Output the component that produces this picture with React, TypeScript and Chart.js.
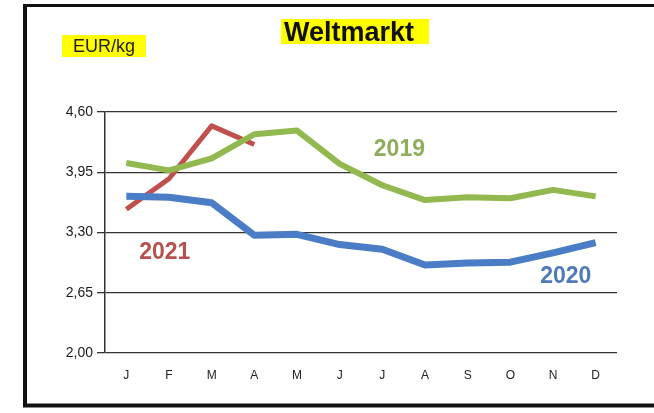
import React, { useEffect, useRef } from "react";
import { Chart, registerables } from "chart.js";

Chart.register(...registerables);

const months = ["J", "F", "M", "A", "M", "J", "J", "A", "S", "O", "N", "D"];
const values2019 = [4.05, 3.97, 4.1, 4.36, 4.4, 4.04, 3.81, 3.65, 3.68, 3.67, 3.76, 3.69];
const values2020 = [3.69, 3.68, 3.62, 3.27, 3.28, 3.17, 3.12, 2.95, 2.97, 2.98, 3.08, 3.19];
const values2021 = [3.55, 3.88, 4.45, 4.25];
const yTicks = [2.0, 2.65, 3.3, 3.95, 4.6];
const seriesLabels = ["2019", "2020", "2021"];
const seriesColors = ["#92B850", "#4A7DC6", "#C0504D"];
const labelColors = ["#8FAE5C", "#4F7BB8", "#B5524F"];
// year annotations: [category index, value]
const labelAnchors: [number, number][] = [
  [6.4, 4.19],
  [10.3, 2.82],
  [0.9, 3.08],
];
const titleText = "Weltmarkt";
const unitText = "EUR/kg";

const decorPlugin = {
  id: "decor",
  beforeDraw(chart: any) {
    const ctx = chart.ctx;
    ctx.save();
    ctx.fillStyle = "#ffffff";
    ctx.fillRect(0, 0, chart.width, chart.height);
    ctx.restore();
  },
  afterDraw(chart: any) {
    const ctx = chart.ctx;
    ctx.save();
    // frame
    ctx.strokeStyle = "#111";
    ctx.lineWidth = 4;
    ctx.beginPath();
    ctx.moveTo(25, 4);
    ctx.lineTo(25, 407);
    ctx.stroke();
    ctx.lineWidth = 3;
    ctx.beginPath();
    ctx.moveTo(23, 5.5);
    ctx.lineTo(chart.width, 5.5);
    ctx.stroke();
    ctx.lineWidth = 4;
    ctx.beginPath();
    ctx.moveTo(23, 405.5);
    ctx.lineTo(chart.width, 405.5);
    ctx.stroke();

    // title
    ctx.fillStyle = "#FFFF00";
    ctx.fillRect(281, 19, 148, 25);
    ctx.font = "bold 27px 'Liberation Sans', Arial, sans-serif";
    ctx.fillStyle = "#111";
    ctx.textAlign = "left";
    ctx.textBaseline = "alphabetic";
    ctx.fillText(titleText, 284, 41);

    // unit
    ctx.fillStyle = "#FFFF00";
    ctx.fillRect(62, 35, 84, 22);
    ctx.font = "18px 'Liberation Sans', Arial, sans-serif";
    ctx.fillStyle = "#222";
    ctx.fillText(unitText, 73, 52);

    // series labels
    const xs = chart.scales.x;
    const ys = chart.scales.y;
    ctx.font = "bold 23px 'Liberation Sans', Arial, sans-serif";
    ctx.textAlign = "center";
    ctx.textBaseline = "middle";
    labelAnchors.forEach((a, i) => {
      const x0 = xs.getPixelForValue(Math.floor(a[0]));
      const x1 = xs.getPixelForValue(Math.floor(a[0]) + 1);
      const px = x0 + (x1 - x0) * (a[0] - Math.floor(a[0]));
      ctx.fillStyle = labelColors[i];
      ctx.fillText(seriesLabels[i], px, ys.getPixelForValue(a[1]));
    });
    ctx.restore();
  },
};

export default function App() {
  const ref = useRef<HTMLCanvasElement>(null);
  useEffect(() => {
    const chart = new Chart(ref.current as HTMLCanvasElement, {
      type: "line",
      data: {
        labels: months,
        datasets: [
          { label: seriesLabels[0], data: values2019, borderColor: seriesColors[0], borderWidth: 6 },
          { label: seriesLabels[1], data: values2020, borderColor: seriesColors[1], borderWidth: 7 },
          { label: seriesLabels[2], data: values2021, borderColor: seriesColors[2], borderWidth: 5 },
        ].map((d) => ({
          ...d,
          pointRadius: 0,
          tension: 0,
          fill: false,
          borderJoinStyle: "round" as const,
          borderCapStyle: "butt" as const,
        })),
      },
      options: {
        responsive: false,
        animation: false,
        layout: { padding: { left: 0, right: 37, top: 112, bottom: 0 } },
        plugins: { legend: { display: false }, title: { display: false }, tooltip: { enabled: false } },
        scales: {
          x: {
            offset: true,
            grid: { display: false, offset: true },
            border: { display: false },
            ticks: {
              color: "#222",
              font: { family: "'Liberation Sans', Arial, sans-serif", size: 12 },
              padding: 7,
              maxRotation: 0,
            },
            afterFit: (s: any) => {
              s.height = 60;
            },
          },
          y: {
            min: 2,
            max: 4.6,
            grid: { color: "#333", lineWidth: 1.3, tickLength: 8, drawTicks: true },
            border: { color: "#333", width: 1.5 },
            afterBuildTicks: (s: any) => {
              s.ticks = yTicks.map((v) => ({ value: v }));
            },
            ticks: {
              color: "#1a1a1a",
              font: { family: "'Liberation Sans', Arial, sans-serif", size: 14 },
              padding: 4,
              callback: (v: any) => Number(v).toFixed(2).replace(".", ","),
            },
            afterFit: (s: any) => {
              s.width = 105;
            },
          },
        },
      },
      plugins: [decorPlugin],
    });
    return () => chart.destroy();
  }, []);
  return (
    <canvas
      ref={ref}
      width={654}
      height={413}
      style={{ position: "absolute", left: 0, top: 0, width: 654, height: 413 }}
    />
  );
}
